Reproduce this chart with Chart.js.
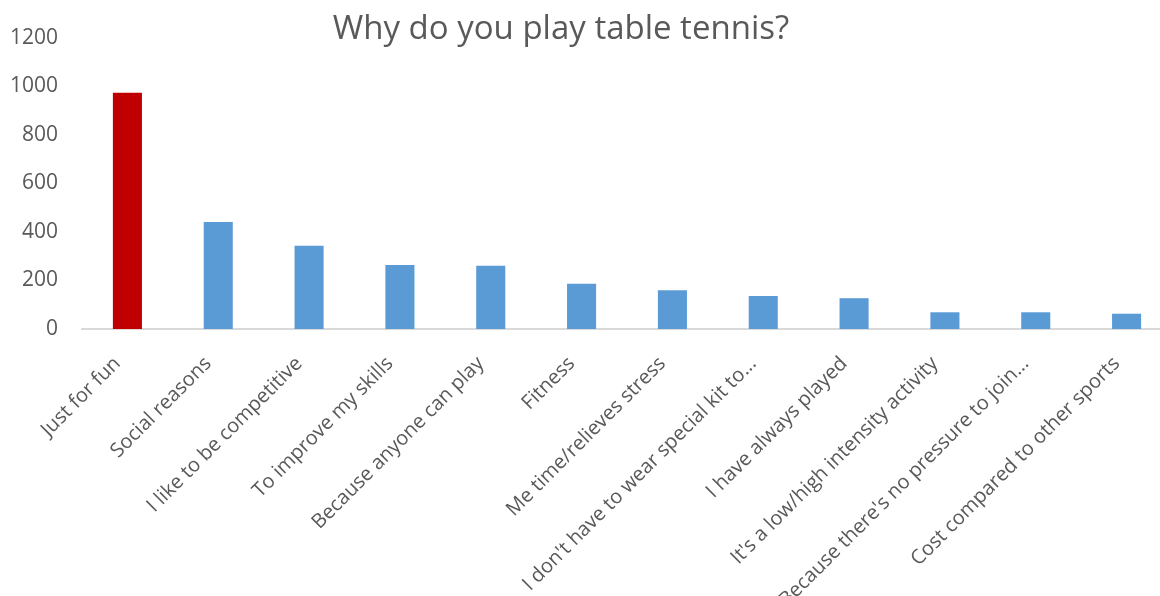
<!DOCTYPE html>
<html>
<head>
<meta charset="utf-8">
<script src="https://cdn.jsdelivr.net/npm/chart.js@4/dist/chart.umd.min.js"></script>
<style>
    html, body { margin: 0; padding: 0; background: #fff; overflow: hidden; }
    #wrap { width: 1172px; height: 596px; }
</style>
</head>
<body>
<div id="wrap"><canvas id="chart" width="1172" height="596"></canvas></div>
<script>
    var chartTitle = "Why do you play table tennis?";

    var reasons = [
        "Just for fun",
        "Social reasons",
        "I like to be competitive",
        "To improve my skills",
        "Because anyone can play",
        "Fitness",
        "Me time/relieves stress",
        "I don't have to wear special kit to...",
        "I have always played",
        "It's a low/high intensity activity",
        "Because there's no pressure to join...",
        "Cost compared to other sports"
    ];

    var responses = [974, 441, 343, 264, 261, 187, 160, 136, 127, 69, 69, 63];

    var yTicks = [0, 200, 400, 600, 800, 1000, 1200];

    var textColor = '#595959';
    var barColors = responses.map(function (v, i) {
        return i === 0 ? '#C00000' : '#5B9BD5';
    });

    // title sits over the plot, Excel style, so it takes no layout space
    var titlePlugin = {
        id: 'overTitle',
        afterDraw: function (chart) {
            var ctx = chart.ctx;
            ctx.save();
            ctx.font = '33px "Open Sans"';
            ctx.fillStyle = textColor;
            ctx.textAlign = 'center';
            ctx.textBaseline = 'middle';
            ctx.fillText(chartTitle, 561, 30);
            ctx.restore();
        }
    };

    var ctx = document.getElementById('chart').getContext('2d');

    var myChart = new Chart(ctx, {
        type: 'bar',
        data: {
            labels: reasons,
            datasets: [{
                data: responses,
                backgroundColor: barColors,
                borderWidth: 0,
                barPercentage: 0.32,
                categoryPercentage: 1.0
            }]
        },
        options: {
            responsive: false,
            animation: false,
            layout: {
                padding: { top: 38, left: 0, right: 0, bottom: 0 }
            },
            plugins: {
                legend: { display: false },
                tooltip: { enabled: false },
                title: { display: false }
            },
            scales: {
                x: {
                    grid: { display: false, drawTicks: false },
                    border: { color: '#d9d9d9', width: 2 },
                    ticks: {
                        color: textColor,
                        font: { family: '"Open Sans"', size: 20 },
                        minRotation: 45,
                        maxRotation: 45,
                        autoSkip: false,
                        padding: 23,
                        labelOffset: -10
                    },
                    afterFit: function (scale) {
                        scale.height = 267;
                    }
                },
                y: {
                    min: 0,
                    max: 1200,
                    grid: { display: false, drawTicks: false },
                    border: { display: false },
                    afterBuildTicks: function (scale) {
                        scale.ticks = yTicks.map(function (v) { return { value: v }; });
                    },
                    ticks: {
                        color: textColor,
                        font: { family: '"Open Sans"', size: 21 },
                        padding: 24,
                        callback: function (value) {
                            return String(value);
                        }
                    },
                    afterFit: function (scale) {
                        scale.width = 82;
                    }
                }
            }
        },
        plugins: [titlePlugin]
    });
</script>
</body>
</html>
